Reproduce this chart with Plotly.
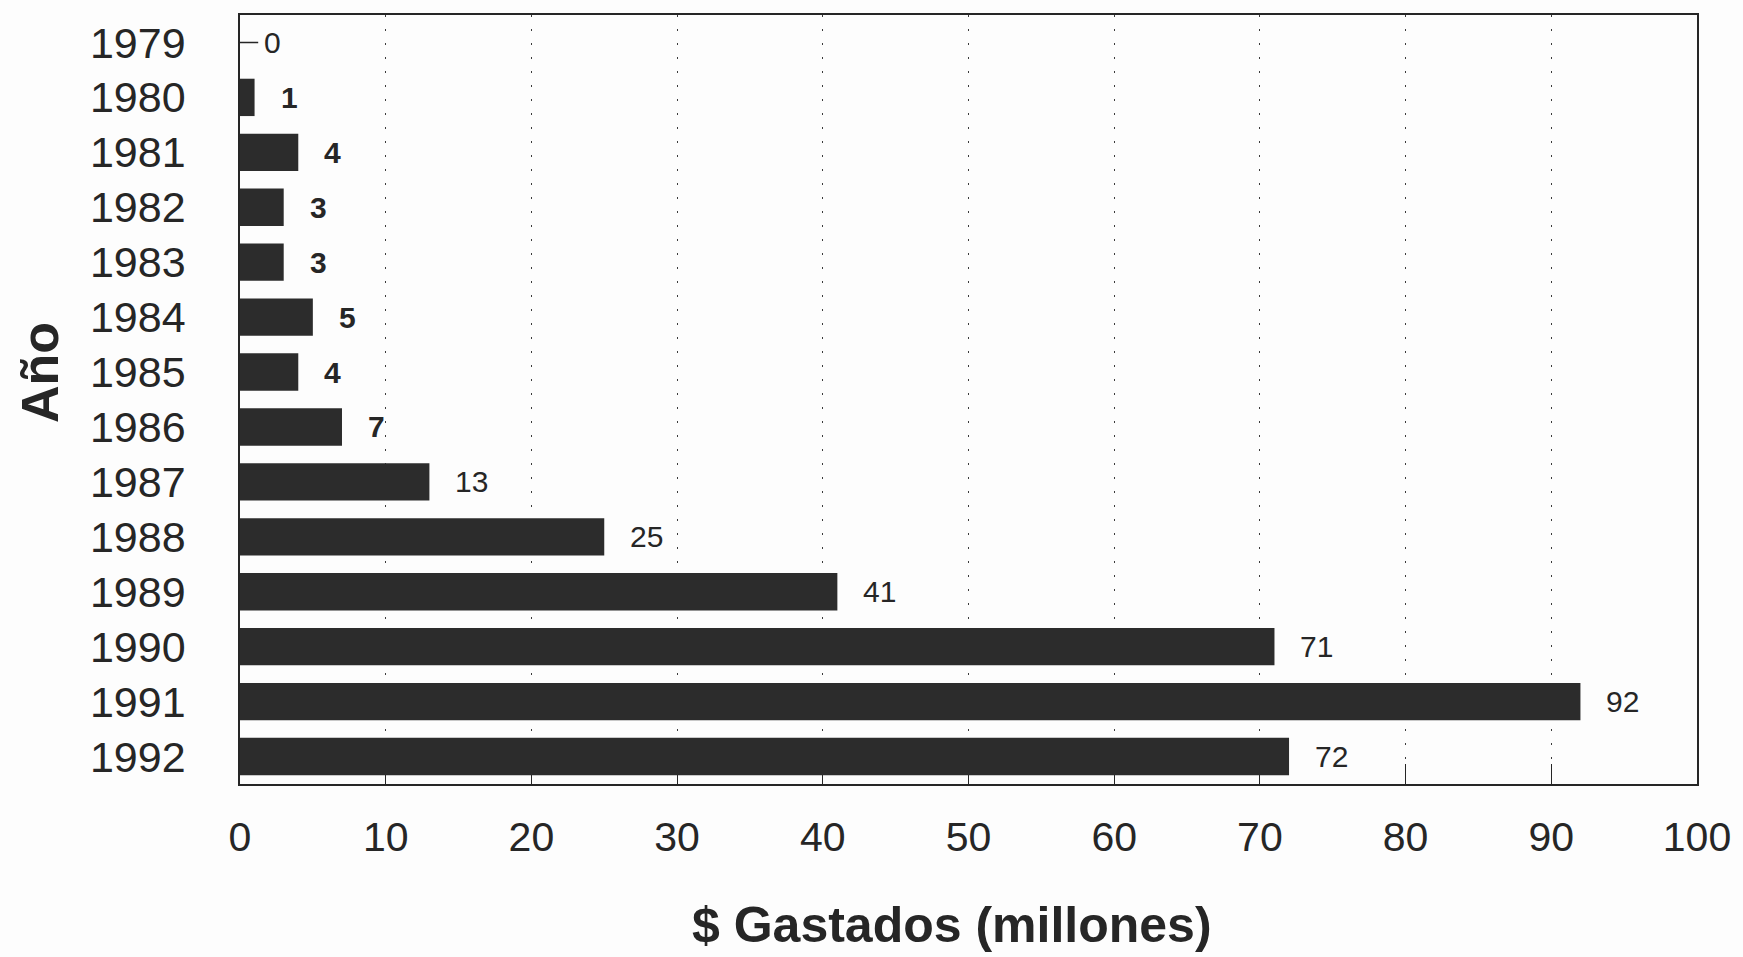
import plotly.graph_objects as go

# Annual spending, millions of dollars
years = ["1979", "1980", "1981", "1982", "1983", "1984", "1985",
         "1986", "1987", "1988", "1989", "1990", "1991", "1992"]
spent = [0, 1, 4, 3, 3, 5, 4, 7, 13, 25, 41, 71, 92, 72]
x_ticks = [0, 10, 20, 30, 40, 50, 60, 70, 80, 90, 100]

FONT = "Liberation Sans, Arial, Helvetica, sans-serif"
INK = "#262626"
BAR = "#2c2c2c"

# bottom-to-top order of the category axis (earliest year on top)
cat_order = years[::-1]

fig = go.Figure()

fig.add_trace(go.Bar(
    y=years,
    x=spent,
    orientation="h",
    marker=dict(color=BAR, line=dict(width=0)),
    hoverinfo="x+y",
))

# zero-valued years get a short dash at the baseline (left half clipped by the axis)
zero_years = [y for y, v in zip(years, spent) if v == 0]
zero_vals = [v for v in spent if v == 0]
fig.add_trace(go.Scatter(
    y=zero_years,
    x=zero_vals,
    mode="markers",
    marker=dict(symbol="line-ew", size=26, line=dict(width=1.6, color=INK)),
    cliponaxis=True,
    hoverinfo="skip",
    showlegend=False,
))

# value labels just past the end of each bar
for y, v in zip(years, spent):
    txt = f"<b>{v}</b>" if 0 < v < 10 else str(v)
    fig.add_annotation(
        x=v, y=cat_order.index(y), xref="x", yref="y",
        text=txt, showarrow=False,
        xanchor="left", yanchor="middle",
        xshift=24 if v > 0 else 22,
        font=dict(family=FONT, size=30, color=INK),
    )

# axis titles
fig.add_annotation(
    x=0.4887, y=-0.184, xref="paper", yref="paper",
    text="<b>$ Gastados (millones)</b>", showarrow=False,
    xanchor="center", yanchor="middle",
    font=dict(family=FONT, size=50, color=INK),
)
fig.add_annotation(
    x=-0.1376, y=0.535, xref="paper", yref="paper",
    text="<b>Año</b>", showarrow=False, textangle=-90,
    xanchor="center", yanchor="middle",
    font=dict(family=FONT, size=52, color=INK),
)

fig.update_layout(
    width=1743,
    height=957,
    margin=dict(l=240, r=42, t=15, b=173),
    paper_bgcolor="#fdfdfd",
    plot_bgcolor="#fdfdfd",
    showlegend=False,
    bargap=0.32,
    font=dict(family=FONT, color=INK),
)

fig.update_xaxes(
    range=[0, 100],
    tickvals=x_ticks,
    ticktext=[str(t) for t in x_ticks],
    tickfont=dict(family=FONT, size=41, color=INK),
    ticks="inside",
    ticklen=20,
    tickwidth=1.2,
    tickcolor=INK,
    ticklabelstandoff=16,
    showgrid=True,
    gridcolor="#3a3a3a",
    gridwidth=1.3,
    griddash="2px,12px",
    showline=True,
    linecolor=INK,
    linewidth=1.6,
    mirror=True,
    zeroline=False,
    layer="below traces",
)

fig.update_yaxes(
    type="category",
    categoryorder="array",
    categoryarray=cat_order,
    range=[-0.5, len(years) - 0.5],
    tickfont=dict(family=FONT, size=43, color=INK),
    ticks="",
    ticklabelstandoff=44,
    showgrid=False,
    showline=True,
    linecolor=INK,
    linewidth=1.6,
    mirror=True,
    zeroline=False,
)

fig.write_html("out.html")
